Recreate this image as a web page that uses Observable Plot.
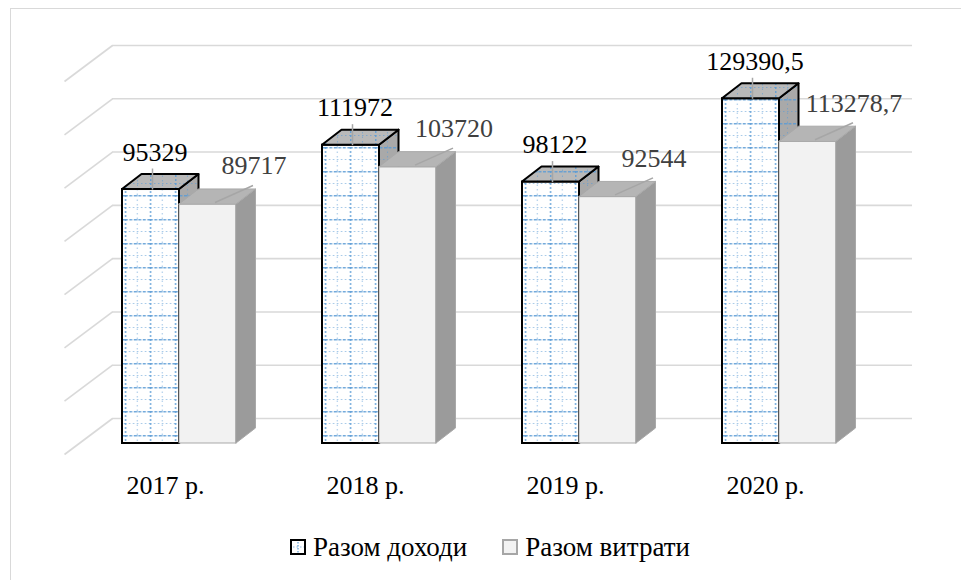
<!DOCTYPE html>
<html>
<head>
<meta charset="utf-8">
<script src="https://cdn.jsdelivr.net/npm/d3@7"></script>
<script src="https://cdn.jsdelivr.net/npm/@observablehq/plot@0.6"></script>
<style>
  html, body { margin: 0; padding: 0; background: #fff; width: 961px; height: 580px; overflow: hidden; }
  #frame { position: absolute; left: 10px; top: 8px; width: 1000px; height: 640px;
           border-left: 1.5px solid #d9d9d9; border-top: 1.5px solid #d9d9d9; box-sizing: border-box; }
  #chart { position: absolute; left: 0; top: 0; }
  #legend { position: absolute; left: 290px; top: 532px; height: 30px; display: flex; align-items: center;
            font-family: "Liberation Serif", serif; font-size: 27px; line-height: 30px; color: #000; white-space: nowrap; }
  #legend .item { display: flex; align-items: center; }
  #legend svg { display: block; margin-right: 6px; position: relative; top: 0px; }
</style>
</head>
<body>
<div id="frame"></div>
<div id="chart"></div>
<div id="legend"></div>
<script>
// ---- data ----
const years = ["2017 р.", "2018 р.", "2019 р.", "2020 р."];
const incomes = [95329, 111972, 98122, 129390.5];
const expenses = [89717, 103720, 92544, 113278.7];
const incomeLabels = ["95329", "111972", "98122", "129390,5"];
const expenseLabels = ["89717", "103720", "92544", "113278,7"];
const yTicks = [0, 20000, 40000, 60000, 80000, 100000, 120000, 140000];
const seriesNames = ["Разом доходи", "Разом витрати"];

// ---- layout ----
const W = 961, H = 520, ML = 79, MR = 82, MT = 70, MB = 77;
const yMax = 140000;
const PX = 4 / (W - ML - MR);          // x units per pixel
const PY = yMax / (H - MT - MB);       // y units per pixel
const BW = 57 * PX;                    // bar width
const DX = 19.5 * PX, DY = 15 * PY;    // bar depth
const font = '"Liberation Serif", serif';

const incBars = years.map((yr, i) => ({key: "inc" + i, x0: i - BW, x1: i, v: incomes[i], label: incomeLabels[i]}));
const expBars = years.map((yr, i) => ({key: "exp" + i, x0: i, x1: i + BW, v: expenses[i], label: expenseLabels[i]}));

const topPts = bars => bars.flatMap(b => [
  {key: b.key, y: b.v, xa: b.x0, xb: b.x1},
  {key: b.key, y: b.v + DY, xa: b.x0 + DX, xb: b.x1 + DX}
]);
const sidePts = bars => bars.flatMap(b => [
  {key: b.key, x: b.x1, y1: 0, y2: b.v},
  {key: b.key, x: b.x1 + DX, y1: DY, y2: b.v + DY}
]);

function barMarks(bars, front, top, side, stroke, sw) {
  return [
    Plot.rect(bars, {x1: "x0", x2: "x1", y1: 0, y2: "v", fill: front, stroke, strokeWidth: sw}),
    Plot.areaY(sidePts(bars), {x: "x", y1: "y1", y2: "y2", z: "key", fill: side, stroke, strokeWidth: sw, strokeLinejoin: "round"}),
    Plot.areaX(topPts(bars), {y: "y", x1: "xa", x2: "xb", z: "key", fill: top, stroke, strokeWidth: sw, strokeLinejoin: "round"})
  ];
}

const grid = "#d9d9d9";
const chart = Plot.plot({
  width: W, height: H,
  marginLeft: ML, marginRight: MR, marginTop: MT, marginBottom: MB,
  x: {type: "linear", domain: [-0.5, 3.5], axis: null},
  y: {type: "linear", domain: [0, yMax], axis: null},
  style: {background: "transparent", overflow: "visible", fontFamily: font},
  marks: [
    // back wall gridlines
    Plot.ruleY(yTicks, {stroke: grid, strokeWidth: 1.6, dx: 33, dy: -25}),
    // side wall / floor diagonals
    Plot.link(yTicks, {x1: -0.5, x2: -0.5 - 48 * PX, y1: d => d, y2: d => d - 36 * PY,
                       stroke: grid, strokeWidth: 1.6, dx: 33, dy: -25}),
    // income bars
    ...barMarks(incBars, "url(#patW)", "url(#patTop)", "url(#patSide)", "#000", 2),
    // expense bars
    ...barMarks(expBars, "#f2f2f2", "#b5b5b5", "#9b9b9b", "#a9a9a9", 1),
    // leader lines
    Plot.link(incBars, {x1: b => (b.x0 + b.x1) / 2 + 1.5 * PX, x2: b => (b.x0 + b.x1) / 2 + 1.5 * PX,
                        y1: b => b.v + 21 * PY, y2: b => b.v, stroke: "#a6a6a6", strokeWidth: 1.5}),
    Plot.link(expBars, {x1: b => (b.x0 + b.x1) / 2 + 45 * PX, x2: b => (b.x0 + b.x1) / 2 + 7 * PX,
                        y1: b => b.v + 19 * PY, y2: b => b.v + 2 * PY, stroke: "#a6a6a6", strokeWidth: 1.5}),
    // data labels
    Plot.text(incBars, {x: b => (b.x0 + b.x1) / 2, y: "v", text: "label", dx: 4, dy: -29,
                        lineAnchor: "bottom", textAnchor: "middle", fill: "#000",
                        fontFamily: font, fontSize: 26}),
    Plot.text(expBars, {x: b => (b.x0 + b.x1) / 2, y: "v", text: "label", dx: 46, dy: -30,
                        lineAnchor: "bottom", textAnchor: "middle", fill: "#404040",
                        fontFamily: font, fontSize: 26}),
    // category labels
    Plot.text(years, {x: (d, i) => i, y: 0, text: d => d, dx: -14, dy: 50,
                      lineAnchor: "bottom", textAnchor: "middle", fill: "#000",
                      fontFamily: font, fontSize: 26})
  ]
});

// patterns (Excel-like dotted grid fill)
const svg = d3.select(chart);
const defs = svg.insert("defs", ":first-child");
function makePattern(id, bg, xOff) {
  const p = defs.append("pattern").attr("id", id).attr("patternUnits", "userSpaceOnUse")
    .attr("width", 25).attr("height", 24).attr("x", xOff).attr("y", 3);
  p.append("rect").attr("width", 25).attr("height", 24).attr("fill", bg);
  const blue = "#5b9bd5";
  p.append("line").attr("x1", 0).attr("x2", 25).attr("y1", 0.75).attr("y2", 0.75)
    .attr("stroke", blue).attr("stroke-width", 1.5).attr("stroke-dasharray", "3 1.5").attr("opacity", 0.85);
  p.append("line").attr("x1", 0).attr("x2", 25).attr("y1", 12.5).attr("y2", 12.5)
    .attr("stroke", blue).attr("stroke-width", 1.2).attr("stroke-dasharray", "1.5 2.5").attr("opacity", 0.6);
  p.append("line").attr("x1", 0.75).attr("x2", 0.75).attr("y1", 0).attr("y2", 24)
    .attr("stroke", blue).attr("stroke-width", 1.5).attr("stroke-dasharray", "2 2").attr("opacity", 0.85);
  p.append("line").attr("x1", 12.5).attr("x2", 12.5).attr("y1", 0).attr("y2", 24)
    .attr("stroke", blue).attr("stroke-width", 1.1).attr("stroke-dasharray", "1.5 3").attr("opacity", 0.55);
}
makePattern("patW", "#ffffff", 0.5 - 0.75);
makePattern("patTop", "#b9b9b9", 0);
makePattern("patSide", "#a9a9a9", 0);

document.getElementById("chart").appendChild(chart);

// legend
const legend = d3.select("#legend");
const swatches = [
  {fill: "#fff", stroke: "#000", dots: true},
  {fill: "#f2f2f2", stroke: "#a6a6a6", dots: false}
];
seriesNames.forEach((name, i) => {
  const item = legend.append("div").attr("class", "item").style("margin-right", i === 0 ? "35px" : "0px");
  const s = item.append("svg").attr("width", 17).attr("height", 17);
  s.append("rect").attr("x", 1).attr("y", 1).attr("width", 14).attr("height", 14)
    .attr("fill", swatches[i].fill).attr("stroke", swatches[i].stroke).attr("stroke-width", 2);
  if (swatches[i].dots) {
    s.append("line").attr("x1", 8).attr("x2", 8).attr("y1", 3).attr("y2", 14)
      .attr("stroke", "#5b9bd5").attr("stroke-width", 1.2).attr("stroke-dasharray", "1.5 1.5");
    s.append("line").attr("x1", 3).attr("x2", 14).attr("y1", 8).attr("y2", 8)
      .attr("stroke", "#5b9bd5").attr("stroke-width", 1).attr("stroke-dasharray", "1.5 2").attr("opacity", 0.7);
  }
  item.append("span").text(name);
});
</script>
</body>
</html>
